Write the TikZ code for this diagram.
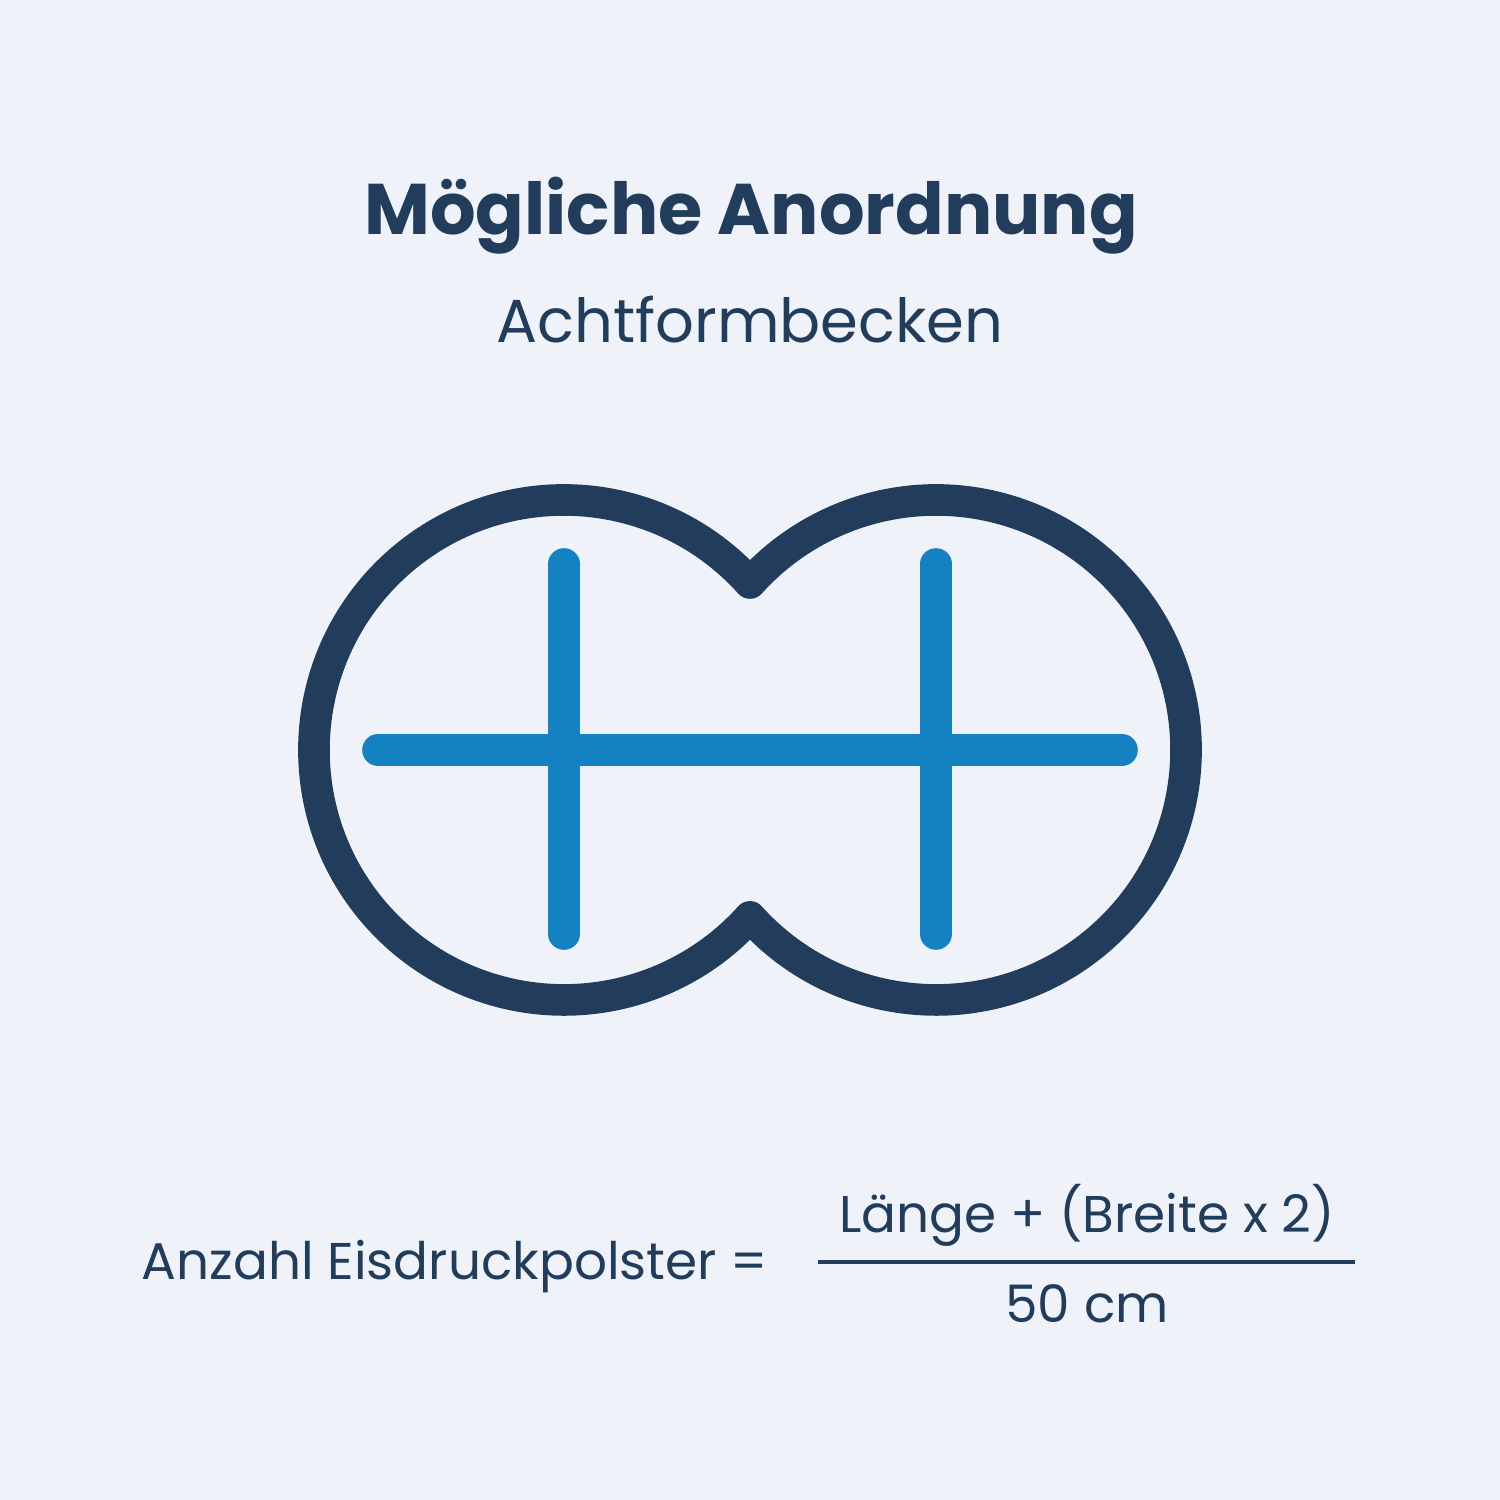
\documentclass[tikz,border=0pt]{standalone}
\usepackage{fontspec}
\setmainfont{Poppins}
\definecolor{navy}{HTML}{213D5B}
\definecolor{poolblue}{HTML}{1482C2}
\definecolor{bg}{HTML}{EFF2F8}

\begin{document}
\begin{tikzpicture}
\tikzstyle{rim}=[draw=navy,line width=9pt,line join=round]
\tikzstyle{pad}=[draw=poolblue,line width=9pt,line cap=round]
\tikzstyle{txt}=[text=navy,anchor=base,inner sep=0pt]
\fill[bg] (0,0) rectangle (15,15);
\useasboundingbox (0,0) rectangle (15,15);

\node[txt,font=\fontsize{20.4}{24}\selectfont\bfseries](title) at (7.51,12.65) {Mögliche Anordnung};
\node[txt,font=\fontsize{17.3}{20}\selectfont](subtitle) at (7.5,11.57) {Achtformbecken};

% figure eight
\coordinate (L) at (5.64,7.5);
\coordinate (R) at (9.36,7.5);
\draw[rim] (7.5,9.17) arc[start angle=41.9,end angle=318.1,radius=2.5]
  arc[start angle=221.9,end angle=498.1,radius=2.5] -- cycle;

% pads
\coordinate (h1) at (3.78,7.5);
\coordinate (h2) at (11.22,7.5);
\draw[pad] (h1) -- (h2);
\draw[pad] ([yshift=1.86cm]L) -- ([yshift=-1.84cm]L);
\draw[pad] ([yshift=1.86cm]R) -- ([yshift=-1.84cm]R);

% formula
\node[txt,font=\fontsize{14.7}{18}\selectfont](lhs) at (4.55,2.2) {Anzahl Eisdruckpolster =};
\node[txt,font=\fontsize{14.7}{18}\selectfont](num) at (10.87,2.68) {Länge + (Breite x 2)};
\node[txt,font=\fontsize{14.7}{18}\selectfont](den) at (10.87,1.77) {50 cm};
\coordinate (f1) at (8.18,2.38);
\coordinate (f2) at (13.55,2.38);
\draw[navy,line width=0.9pt] (f1) -- (f2);
\end{tikzpicture}
\end{document}
